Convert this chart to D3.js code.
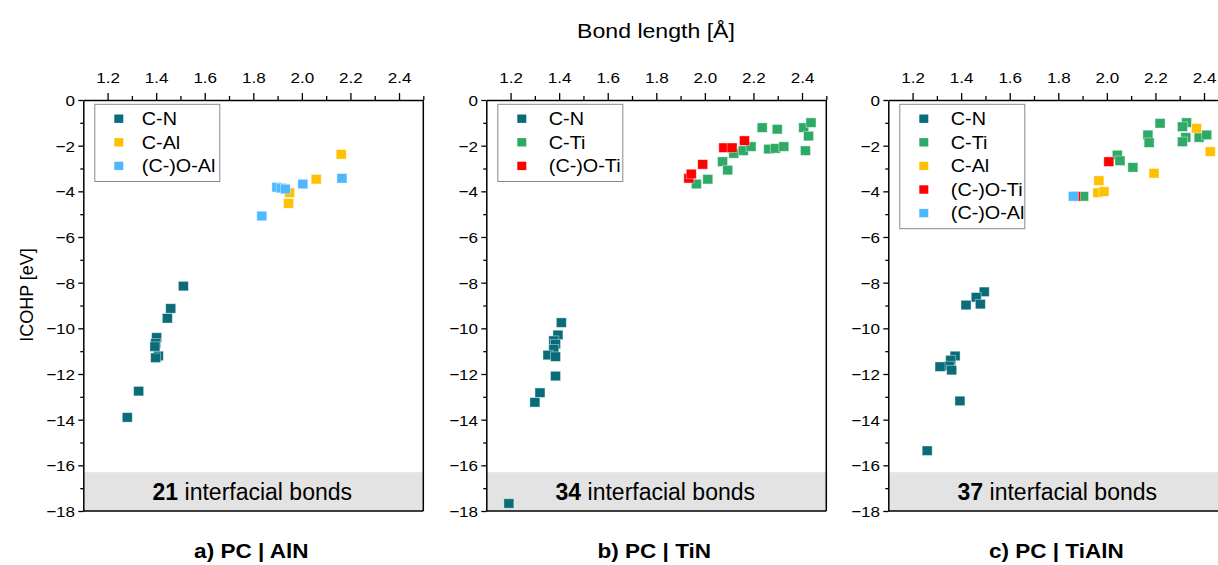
<!DOCTYPE html>
<html>
<head>
<meta charset="utf-8">
<script src="https://cdn.jsdelivr.net/npm/d3@7"></script>
<style>
  html, body { margin: 0; padding: 0; background: #fff; }
  svg { display: block; font-family: "Liberation Sans", Arial, sans-serif; }
</style>
</head>
<body>
<svg id="chart" width="1218" height="565"></svg>
<script>
// ---- data ----
const panelTitles = ["a) PC | AlN", "b) PC | TiN", "c) PC | TiAlN"];
const bondCounts = [21, 34, 37];
const xTicks = [1.2, 1.4, 1.6, 1.8, 2.0, 2.2, 2.4];
const xMinorTicks = [1.3, 1.5, 1.7, 1.9, 2.1, 2.3, 2.5];
const yTicks = [0, -2, -4, -6, -8, -10, -12, -14, -16, -18];
const yMinorTicks = [-1, -3, -5, -7, -9, -11, -13, -15, -17];
const xDomain = [1.1, 2.5];
const yDomain = [-18, 0];
const bandTop = -16.3;

const bondTypes = ["C-N", "C-Ti", "C-Al", "(C-)O-Ti", "(C-)O-Al"];
const bondColors = ["#0b6c79", "#2eaa66", "#ffc000", "#ff0000", "#4db8ff"];

// a) PC | AlN  — [bond length, ICOHP]
const aCN = [[1.512, -8.15], [1.460, -9.13], [1.446, -9.56], [1.402, -10.40], [1.398, -10.66],
             [1.395, -10.80], [1.409, -11.21], [1.398, -11.29], [1.328, -12.75], [1.281, -13.90]];
const aCAl = [[2.162, -2.38], [2.059, -3.47], [1.949, -4.06], [1.945, -4.53]];
const aOAl = [[2.165, -3.43], [2.004, -3.68], [1.897, -3.82], [1.915, -3.86], [1.932, -3.90],
              [1.835, -5.08]];

// b) PC | TiN
const bCN = [[1.409, -9.75], [1.395, -10.29], [1.378, -10.54], [1.385, -10.69], [1.378, -10.92],
             [1.354, -11.17], [1.385, -11.24], [1.385, -12.09], [1.321, -12.82], [1.300, -13.24],
             [1.193, -17.67]];
const bCTi = [[1.965, -3.68], [2.012, -3.47], [2.073, -2.70], [2.094, -3.07], [2.119, -2.34],
              [2.158, -2.22], [2.190, -2.04], [2.236, -1.21], [2.263, -2.15], [2.298, -1.28],
              [2.291, -2.12], [2.325, -2.04], [2.407, -1.21], [2.437, -0.99], [2.427, -1.58],
              [2.414, -2.22]];
const bOTi = [[1.934, -3.43], [1.944, -3.24], [1.991, -2.82], [2.078, -2.09], [2.112, -2.09],
              [2.163, -1.78]];

// c) PC | TiAlN
const cCN = [[1.495, -8.40], [1.462, -8.64], [1.479, -8.94], [1.420, -8.98], [1.375, -11.21],
             [1.357, -11.39], [1.351, -11.65], [1.313, -11.68], [1.361, -11.83], [1.395, -13.18],
             [1.260, -15.36]];
const cCTi = [[2.219, -1.02], [2.328, -0.99], [2.311, -1.17], [2.325, -1.64], [2.311, -1.83],
              [2.380, -1.64], [2.411, -1.53], [2.169, -1.53], [2.174, -1.87], [2.043, -2.41],
              [2.054, -2.66], [2.107, -2.95], [1.904, -4.22]];
const cCAl = [[2.369, -1.24], [2.426, -2.26], [2.194, -3.21], [1.967, -3.53], [1.963, -4.06],
              [1.988, -4.01]];
const cOTi = [[2.008, -2.70], [1.871, -4.22]];
const cOAl = [[1.862, -4.22]];

const panelSeries = [
  [["C-N", aCN], ["C-Al", aCAl], ["(C-)O-Al", aOAl]],
  [["C-N", bCN], ["C-Ti", bCTi], ["(C-)O-Ti", bOTi]],
  [["C-N", cCN], ["C-Ti", cCTi], ["C-Al", cCAl], ["(C-)O-Ti", cOTi], ["(C-)O-Al", cOAl]]
];

// ---- layout ----
const svg = d3.select("#chart");
const SX = 1.1;                       // horizontal text stretch
const panelLeft = [83.3, 486.3, 888.3];
const W = 340, plotTop = 100, plotBottom = 511;
const color = d3.scaleOrdinal().domain(bondTypes).range(bondColors);
const fmtY = d3.format("d");

function label(g, x, y, str, size, anchor, weight) {
  return g.append("text")
    .attr("transform", `translate(${x},${y}) scale(${SX},1)`)
    .attr("text-anchor", anchor || "start")
    .attr("font-size", size)
    .attr("font-weight", weight || "normal")
    .attr("fill", "#000")
    .text(str);
}

// shared titles
label(svg, 656, 38, "Bond length [Å]", 21, "middle");
svg.append("text")
  .attr("transform", "translate(33,295) rotate(-90)")
  .attr("text-anchor", "middle")
  .attr("font-size", 18)
  .text("ICOHP [eV]");

panelSeries.forEach((series, i) => {
  const L = panelLeft[i];
  const g = svg.append("g");
  const x = d3.scaleLinear().domain(xDomain).range([L, L + W]);
  const y = d3.scaleLinear().domain(yDomain).range([plotBottom, plotTop]);

  // shaded footer band
  g.append("rect")
    .attr("x", x(xDomain[0])).attr("y", y(bandTop))
    .attr("width", x(xDomain[1]) - x(xDomain[0]))
    .attr("height", y(yDomain[0]) - y(bandTop))
    .attr("fill", "#e3e3e3");

  // points
  const mw = 10, mh = 9.5;
  series.forEach(([type, pts]) => {
    g.append("g").selectAll("rect").data(pts).join("rect")
      .attr("x", d => x(d[0]) - mw / 2)
      .attr("y", d => y(d[1]) - mh / 2)
      .attr("width", mw).attr("height", mh)
      .attr("fill", color(type))
      .attr("stroke", "#ffffff").attr("stroke-opacity", 0.5).attr("stroke-width", 0.8);
  });

  // frame right + bottom
  g.append("line").attr("x1", x(xDomain[1])).attr("x2", x(xDomain[1]))
    .attr("y1", y(0)).attr("y2", y(-18)).attr("stroke", "#000").attr("stroke-width", 1.5);
  g.append("line").attr("x1", x(xDomain[0])).attr("x2", x(xDomain[1]))
    .attr("y1", y(-18)).attr("y2", y(-18)).attr("stroke", "#000").attr("stroke-width", 1.5);

  // top axis
  const xa = g.append("g").attr("transform", `translate(0,${plotTop})`)
    .call(d3.axisTop(x).tickValues(xTicks).tickSize(7).tickSizeOuter(0).tickPadding(10)
      .tickFormat(d3.format(".1f")));
  g.append("g").attr("transform", `translate(0,${plotTop})`)
    .call(d3.axisTop(x).tickValues(xMinorTicks).tickSize(4).tickSizeOuter(0).tickFormat(""))
    .call(s => s.select(".domain").remove());
  xa.selectAll("text").attr("y", -17).attr("dy", 0)
    .attr("transform", `scale(${SX},1)`);

  // left axis
  const ya = g.append("g").attr("transform", `translate(${L},0)`)
    .call(d3.axisLeft(y).tickValues(yTicks).tickSize(5).tickSizeOuter(0).tickPadding(4)
      .tickFormat(d => d === 0 ? "0" : "\u2212" + fmtY(-d)));
  g.append("g").attr("transform", `translate(${L},0)`)
    .call(d3.axisLeft(y).tickValues(yMinorTicks).tickSize(3).tickSizeOuter(0).tickFormat(""))
    .call(s => s.select(".domain").remove());
  ya.selectAll("text").attr("x", -7.5).attr("dy", "0.35em")
    .attr("transform", `scale(${SX},1)`);

  g.selectAll(".domain").attr("stroke", "#000").attr("stroke-width", 1.5);
  g.selectAll(".tick line").attr("stroke", "#000").attr("stroke-width", 1.3);
  g.selectAll(".tick text").attr("font-size", 15.5)
    .attr("font-family", '"Liberation Sans", Arial, sans-serif').attr("fill", "#000");

  // legend
  const lx = L + 11.5, ly = plotTop + 4.3, rowH = 23.6;
  const lg = g.append("g");
  lg.append("rect")
    .attr("x", lx).attr("y", ly)
    .attr("width", 125).attr("height", 14.4 + rowH * (series.length - 1) + 15.6)
    .attr("fill", "#fff").attr("stroke", "#8a8a8a").attr("stroke-width", 1);
  series.forEach(([type], k) => {
    const cy = ly + 14.4 + k * rowH;
    lg.append("rect").attr("x", lx + 24 - 4.5).attr("y", cy - 4.2)
      .attr("width", 9).attr("height", 8.4).attr("fill", color(type));
    label(lg, lx + (i === 0 ? 47 : 51), cy + 6.3, type, 18, "start");
  });

  // bond count inside band
  const bt = g.append("text")
    .attr("transform", `translate(${L + W / 2 - 1},500)`)
    .attr("text-anchor", "middle").attr("font-size", 23).attr("fill", "#000");
  bt.append("tspan").attr("font-weight", "bold").text(bondCounts[i]);
  bt.append("tspan").text(" interfacial bonds");

  // panel caption
  label(g, L + W / 2 - 2, 558, panelTitles[i], 20.5, "middle", "bold");
});
</script>
</body>
</html>
